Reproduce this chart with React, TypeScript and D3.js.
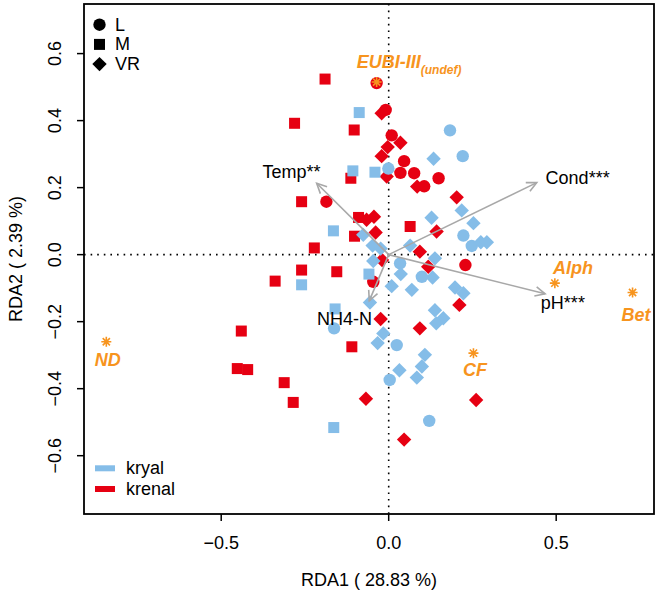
import * as d3 from "d3";

// site scores (RDA1, RDA2), by stream type and site class
const krenalM: [number, number][] = [
  [-0.19, 0.524], [-0.281, 0.392], [-0.103, 0.372], [-0.113, 0.228], [-0.26, 0.158],
  [-0.09, 0.111], [-0.102, 0.055], [0.064, 0.084], [-0.222, 0.02], [-0.26, -0.046],
  [-0.155, -0.051], [-0.339, -0.079], [-0.11, -0.275], [-0.44, -0.228], [-0.452, -0.34],
  [-0.421, -0.343], [-0.312, -0.382], [-0.285, -0.441],
];
const krenalL: [number, number][] = [
  [-0.036, 0.512], [-0.009, 0.432], [0.009, 0.356], [0.046, 0.279], [0.035, 0.244],
  [0.076, 0.243], [0.149, 0.228], [0.106, 0.204], [-0.186, 0.158], [0.229, -0.031],
  [-0.046, -0.081],
];
const krenalVR: [number, number][] = [
  [-0.021, 0.422], [0.035, 0.334], [-0.003, 0.321], [-0.021, 0.294], [-0.006, 0.233],
  [0.085, 0.203], [0.203, 0.171], [-0.044, 0.113], [-0.066, 0.104], [-0.039, 0.066],
  [0.143, 0.069], [0.093, 0.009], [0.118, -0.036], [0.211, -0.15], [-0.024, -0.192],
  [0.093, -0.22], [-0.068, -0.43], [0.261, -0.434], [0.046, -0.552], [-0.02, -0.016],
];
const kryalM: [number, number][] = [
  [-0.088, 0.424], [-0.107, 0.25], [-0.041, 0.246], [-0.165, 0.071], [-0.059, -0.058],
  [-0.26, -0.09], [-0.16, -0.162], [-0.164, -0.516],
];
const kryalL: [number, number][] = [
  [0.183, 0.371], [0.221, 0.294], [-0.001, 0.257], [0.223, 0.057], [0.248, 0.026],
  [0.034, -0.026], [0.099, -0.066], [-0.163, -0.22], [0.024, -0.27], [0.003, -0.374],
  [0.121, -0.496],
];
const kryalVR: [number, number][] = [
  [0.134, 0.286], [0.218, 0.132], [0.253, 0.094], [0.128, 0.11], [0.275, 0.037],
  [0.293, 0.037], [-0.076, 0.059], [-0.048, 0.027], [-0.024, 0.018], [0.064, 0.027],
  [0.138, -0.011], [-0.046, -0.019], [0.036, -0.058], [0.131, -0.068], [0.009, -0.094],
  [0.069, -0.105], [0.198, -0.098], [0.223, -0.115], [-0.056, -0.143], [0.138, -0.166],
  [0.163, -0.19], [0.142, -0.205], [-0.016, -0.235], [-0.033, -0.264], [0.108, -0.299],
  [0.099, -0.334], [0.084, -0.367], [0.032, -0.345],
];

// environmental vectors: tip and label position
const envNames = ["Temp**", "Cond***", "pH***", "NH4-N"];
const envTips: [number, number][] = [[-0.215, 0.213], [0.442, 0.215], [0.467, -0.117], [-0.058, -0.138]];
const envLabels: [number, number][] = [[-0.29, 0.247], [0.564, 0.229], [0.52, -0.144], [-0.132, -0.192]];

// species (asterisks) and their labels
const spNames = ["EUBI-III", "Alph", "Bet", "CF", "ND"];
const spScores: [number, number][] = [[-0.036, 0.515], [0.496, -0.085], [0.728, -0.113], [0.253, -0.294], [-0.843, -0.26]];
const spLabels: [number, number][] = [[-0.0955, 0.557], [0.55, -0.04], [0.738, -0.18], [0.258, -0.345], [-0.839, -0.314]];

const xTicks = [-0.5, 0, 0.5];
const yTicks = [-0.6, -0.4, -0.2, 0, 0.2, 0.4, 0.6];

const BLUE = "#85BDE8";
const RED = "#E60012";
const ORANGE = "#F7941E";
const FONT = "Liberation Sans, Arial, sans-serif";

const W = 661;
const H = 597;
const L = 84, R = 654, T = 4, B = 514;

const x = d3.scaleLinear().domain([-0.9096, 0.792]).range([L, R]);
const y = d3.scaleLinear().domain([-0.774, 0.748]).range([B, T]);

function shape(kind: string, cx: number, cy: number, fill: string, key: string) {
  if (kind === "L") return <circle key={key} cx={cx} cy={cy} r={6.2} fill={fill} />;
  if (kind === "M") return <rect key={key} x={cx - 5.5} y={cy - 5.5} width={11} height={11} fill={fill} />;
  const d = 7.2;
  return <path key={key} d={`M${cx},${cy - d}L${cx + d},${cy}L${cx},${cy + d}L${cx - d},${cy}Z`} fill={fill} />;
}

function star(cx: number, cy: number, key: string) {
  const r = 5;
  const q = r * 0.72;
  const p = `M${cx - r},${cy}H${cx + r}M${cx},${cy - r}V${cy + r}M${cx - q},${cy - q}L${cx + q},${cy + q}M${cx - q},${cy + q}L${cx + q},${cy - q}`;
  return <path key={key} d={p} stroke={ORANGE} strokeWidth={1.6} fill="none" />;
}

export default function App() {
  const groups: [string, string, [number, number][]][] = [
    ["M", RED, krenalM], ["L", RED, krenalL], ["VR", RED, krenalVR],
    ["M", BLUE, kryalM], ["L", BLUE, kryalL], ["VR", BLUE, kryalVR],
  ];
  const ox = x(0), oy = y(0);

  return (
    <svg width={W} height={H} style={{ display: "block", background: "#fff" }} fontFamily={FONT}>
      <style>{"body{margin:0}"}</style>
      {/* reference lines */}
      <line x1={x(0)} x2={x(0)} y1={T} y2={B} stroke="#000" strokeWidth={1.6} strokeDasharray="1.6 5" />
      <line x1={L} x2={R} y1={y(0)} y2={y(0)} stroke="#000" strokeWidth={1.6} strokeDasharray="1.6 5" />

      {/* sites */}
      {groups.map(([kind, col, pts], gi) =>
        pts.map((p, i) => shape(kind, x(p[0]), y(p[1]), col, `${gi}-${i}`))
      )}

      {/* env arrows */}
      {envTips.map((t, i) => {
        const tx = x(t[0]), ty = y(t[1]);
        const a = Math.atan2(ty - oy, tx - ox);
        const len = 11, spread = Math.PI / 7;
        const h1 = [tx - len * Math.cos(a - spread), ty - len * Math.sin(a - spread)];
        const h2 = [tx - len * Math.cos(a + spread), ty - len * Math.sin(a + spread)];
        return (
          <g key={"a" + i} stroke="#A8A8A8" strokeWidth={1.6} fill="none">
            <line x1={ox} y1={oy} x2={tx} y2={ty} />
            <path d={`M${h1[0]},${h1[1]}L${tx},${ty}L${h2[0]},${h2[1]}`} />
          </g>
        );
      })}
      {envNames.map((n, i) => (
        <text key={"e" + i} x={x(envLabels[i][0])} y={y(envLabels[i][1])} textAnchor="middle"
          dominantBaseline="central" fontSize={18} fill="#000">{n}</text>
      ))}

      {/* species */}
      {spScores.map((s, i) => star(x(s[0]), y(s[1]), "s" + i))}
      {spNames.map((n, i) =>
        i === 0 ? (
          <text key={"n" + i} x={x(spLabels[i][0])} y={y(spLabels[i][1])} fontSize={18}
            fontWeight="bold" fontStyle="italic" fill={ORANGE}>
            {n}
            <tspan fontSize={12} dy={6}>(undef)</tspan>
          </text>
        ) : (
          <text key={"n" + i} x={x(spLabels[i][0])} y={y(spLabels[i][1])} textAnchor="middle"
            dominantBaseline="central" fontSize={18} fontWeight="bold" fontStyle="italic" fill={ORANGE}>{n}</text>
        )
      )}

      {/* box */}
      <rect x={L} y={T} width={R - L} height={B - T} fill="none" stroke="#000" strokeWidth={1.8} />

      {/* axes */}
      {xTicks.map((t) => (
        <g key={"xt" + t}>
          <line x1={x(t)} x2={x(t)} y1={B} y2={B + 7} stroke="#000" strokeWidth={1.5} />
          <text x={x(t)} y={543} textAnchor="middle" dominantBaseline="central" fontSize={18}>
            {d3.format(".1f")(t).replace("-", "\u2212")}
          </text>
        </g>
      ))}
      {yTicks.map((t) => (
        <g key={"yt" + t}>
          <line x1={L - 7} x2={L} y1={y(t)} y2={y(t)} stroke="#000" strokeWidth={1.5} />
          <text transform={`translate(55,${y(t)}) rotate(-90)`} textAnchor="middle" dominantBaseline="central" fontSize={18}>
            {d3.format(".1f")(t).replace("-", "\u2212")}
          </text>
        </g>
      ))}
      <text x={(L + R) / 2} y={580} textAnchor="middle" dominantBaseline="central" fontSize={18}>RDA1 ( 28.83 %)</text>
      <text transform={`translate(16,${(T + B) / 2}) rotate(-90)`} textAnchor="middle" dominantBaseline="central" fontSize={18}>RDA2 ( 2.39 %)</text>

      {/* legend: site class */}
      {["L", "M", "VR"].map((k, i) => (
        <g key={"lg" + k}>
          {shape(k, 99.5, 24.7 + i * 19.7, "#000", "ls" + k)}
          <text x={115} y={24.7 + i * 19.7} dominantBaseline="central" fontSize={18}>{k}</text>
        </g>
      ))}
      {/* legend: stream type */}
      {[["kryal", BLUE], ["krenal", RED]].map(([n, c], i) => (
        <g key={"lt" + n}>
          <rect x={95} y={468.3 + i * 20.7 - 3} width={20} height={6} fill={c} />
          <text x={126} y={468.3 + i * 20.7} dominantBaseline="central" fontSize={18}>{n}</text>
        </g>
      ))}
    </svg>
  );
}
